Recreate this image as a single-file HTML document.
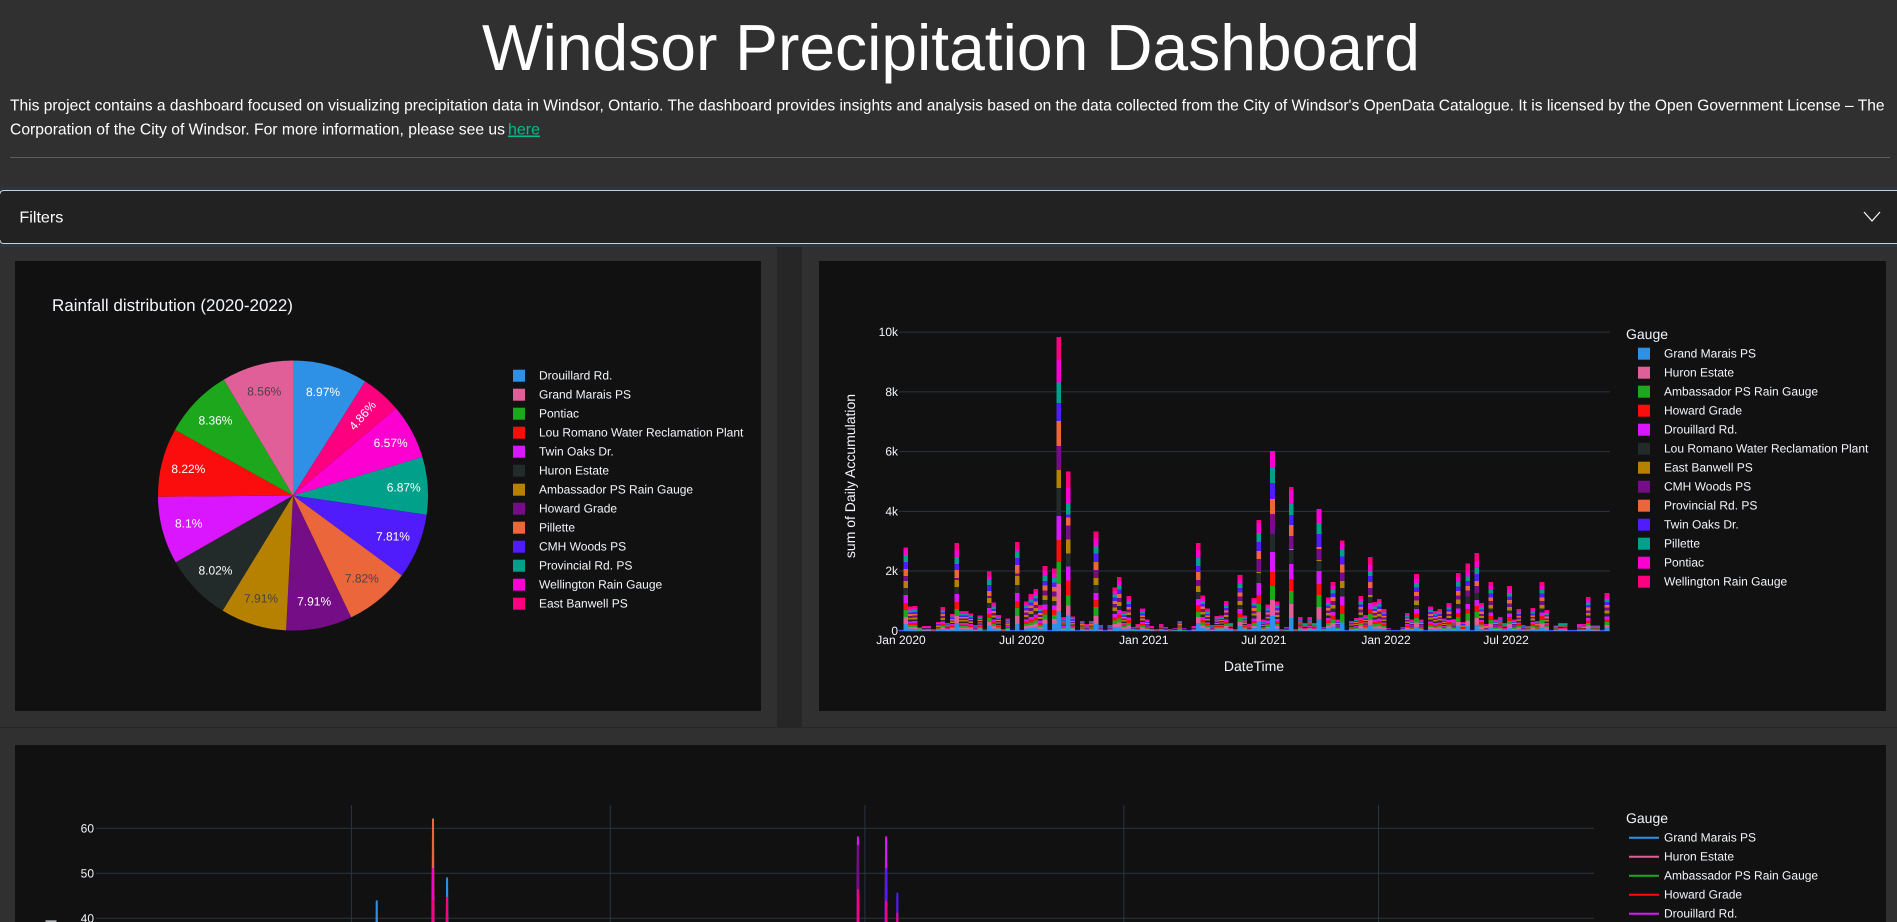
<!DOCTYPE html>
<html lang="en">
<head>
<meta charset="utf-8">
<title>Windsor Precipitation Dashboard</title>
<style>
html,body{margin:0;padding:0;width:1897px;height:922px;overflow:hidden;background:#303030;}
svg{display:block;position:absolute;left:0;top:0;font-family:"Liberation Sans",Arial,sans-serif;}
text{white-space:pre;}
.tick{font-size:12px;fill:#f2f5fa;text-rendering:geometricPrecision;}
.axt{font-size:14px;fill:#f2f5fa;text-rendering:geometricPrecision;}
</style>
</head>
<body>
<svg id="page" width="1897" height="922" viewBox="0 0 1897 922">
  <rect x="0" y="0" width="1897" height="922" fill="#303030"/>
  <text x="482" y="70" font-size="65" fill="#fff" textLength="938" lengthAdjust="spacingAndGlyphs">Windsor Precipitation Dashboard</text>
  <text x="10" y="110.5" font-size="16" fill="#fff" textLength="1874.5" lengthAdjust="spacingAndGlyphs">This project contains a dashboard focused on visualizing precipitation data in Windsor, Ontario. The dashboard provides insights and analysis based on the data collected from the City of Windsor's OpenData Catalogue. It is licensed by the Open Government License – The</text>
  <text x="10" y="134.5" font-size="16" fill="#fff" textLength="495" lengthAdjust="spacingAndGlyphs">Corporation of the City of Windsor. For more information, please see us</text>
  <a href="#"><text x="508" y="134.5" font-size="16" fill="#00bc8c" textLength="32" lengthAdjust="spacingAndGlyphs" text-decoration="underline">here</text></a>
  <rect x="10" y="157" width="1880" height="1" fill="#5c5c5c"/>

  <g>
    <rect x="0" y="187" width="1897" height="60" fill="#2b3640"/>
    <rect x="0" y="190" width="1897" height="54" fill="#222"/>
    <path d="M0 194 Q0 190.5 4 190.5 L1897 190.5 M0 240 Q0 243.5 4 243.5 L1897 243.5" fill="none" stroke="#c6d3de" stroke-width="1"/>
    <text x="19.4" y="222.5" font-size="16" fill="#fff" textLength="44" lengthAdjust="spacingAndGlyphs">Filters</text>
    <path d="M1864 212 L1872 221 L1880 212" fill="none" stroke="#fff" stroke-width="1.2"/>
  </g>

  <rect x="777" y="247" width="25" height="480" fill="#262626"/>
  <rect x="0" y="727" width="1897" height="1" fill="#262626"/>
  <rect x="15" y="261" width="746" height="450" fill="#111"/>
  <rect x="819" y="261" width="1067" height="450" fill="#111"/>
  <rect x="15" y="745" width="1871" height="177" fill="#111"/>

  <g id="pie">
    <text x="52" y="311" font-size="17" fill="#f2f5fa" text-rendering="geometricPrecision">Rainfall distribution (2020-2022)</text>
  </g>
  <g id="bars">
    <text transform="translate(855,476) rotate(-90)" text-anchor="middle" class="axt">sum of Daily Accumulation</text>
    <text x="1254" y="671" text-anchor="middle" class="axt">DateTime</text>
  </g>
  <g id="lines">
    <rect x="45.5" y="920.3" width="11" height="1.7" fill="#b0b3b8"/>
  </g>
</svg>

<script>
/* ---------- pie data ---------- */
const pieLabels = ['Drouillard Rd.','East Banwell PS','Wellington Rain Gauge','Provincial Rd. PS','CMH Woods PS','Pillette','Howard Grade','Ambassador PS Rain Gauge','Huron Estate','Twin Oaks Dr.','Lou Romano Water Reclamation Plant','Pontiac','Grand Marais PS'];
const pieValues = [8.97,4.86,6.57,6.87,7.81,7.82,7.91,7.91,8.02,8.1,8.22,8.36,8.56];
const pieLegendOrder = ['Drouillard Rd.','Grand Marais PS','Pontiac','Lou Romano Water Reclamation Plant','Twin Oaks Dr.','Huron Estate','Ambassador PS Rain Gauge','Howard Grade','Pillette','CMH Woods PS','Provincial Rd. PS','Wellington Rain Gauge','East Banwell PS'];

/* ---------- stacked bar data (weekly, from 2020-01-01) ---------- */
const barSeriesNames = ['Grand Marais PS','Huron Estate','Ambassador PS Rain Gauge','Howard Grade','Drouillard Rd.','Lou Romano Water Reclamation Plant','East Banwell PS','CMH Woods PS','Provincial Rd. PS','Twin Oaks Dr.','Pillette','Pontiac','Wellington Rain Gauge'];
const barSeriesColors = ['#2E91E5','#E15F99','#1CA71C','#FB0D0D','#DA16FF','#222A2A','#B68100','#750D86','#EB663B','#511CFB','#00A08B','#FB00D1','#FC0080'];
const grandMaraisWeekly = [2,225,70,65,10,15,10,5,25,60,
25,45,255,60,50,40,15,40,5,155,
85,35,5,25,2,225,2,85,90,125,
60,225,2,225,660,40,520,35,2,30,
15,30,225,15,2,10,125,130,60,80,
5,20,50,25,15,5,20,10,5,10,
30,5,2,10,255,100,65,15,40,35,
70,25,5,160,45,20,90,335,25,70,
500,85,5,10,430,5,40,15,30,25,
400,10,100,145,30,270,2,30,35,80,
50,190,75,70,60,5,2,2,10,40,
30,125,35,2,55,45,60,35,70,25,
160,20,160,2,190,65,15,130,30,40,
20,100,30,60,15,10,50,30,110,50,
2,10,25,15,2,2,20,15,75,10,
10,2,110];
const huronEstateWeekly = [2,235,65,70,5,10,15,5,25,70,
15,50,235,55,55,50,10,45,2,135,
70,40,5,35,2,270,2,70,100,115,
70,150,2,170,900,30,330,40,2,20,
15,20,270,10,2,20,100,150,45,100,
10,15,65,35,10,5,15,10,5,5,
20,10,2,15,200,85,50,20,35,45,
85,15,5,130,35,15,75,300,30,60,
535,70,5,5,470,5,30,25,40,15,
400,5,75,110,25,0,2,20,30,95,
35,170,70,90,50,10,2,2,5,50,
25,160,20,2,70,55,50,30,80,35,
135,25,190,2,235,75,20,115,25,30,
15,125,25,50,20,15,65,20,135,60,
2,15,15,25,2,2,15,20,95,15,
15,2,85];
const ambassadorWeekly = [2,235,60,60,10,10,15,5,20,55,
25,40,235,45,60,40,20,35,5,135,
80,45,5,30,2,270,2,80,85,105,
65,175,2,140,740,35,330,30,2,30,
20,25,300,20,2,15,120,125,55,85,
10,15,55,25,15,5,20,5,5,10,
25,5,2,10,170,90,60,10,45,40,
75,20,5,150,40,20,90,270,25,75,
470,80,5,10,435,5,40,20,30,20,
400,10,85,130,35,300,2,25,35,85,
40,200,80,85,55,5,2,2,10,45,
30,150,30,2,60,50,60,30,65,30,
155,20,225,2,200,70,15,120,35,35,
25,110,35,55,10,15,60,25,120,45,
2,10,20,25,2,2,15,15,85,15,
10,2,100];
const howardGradeWeekly = [2,235,65,60,5,15,10,5,20,65,
20,45,235,55,45,45,15,40,2,135,
70,45,5,30,2,235,2,70,100,100,
70,170,2,165,740,30,500,40,2,20,
15,30,235,15,2,15,100,145,50,95,
10,20,60,30,10,5,15,10,5,5,
25,10,2,15,235,85,55,15,35,35,
80,25,5,140,35,15,80,300,30,60,
470,75,5,10,400,5,35,20,35,20,
370,10,90,120,30,270,2,30,30,95,
45,170,70,80,60,5,2,2,10,50,
25,140,30,2,65,50,55,35,75,30,
150,25,160,2,200,80,15,130,25,35,
20,120,25,60,15,10,55,25,130,55,
2,15,20,20,2,2,20,20,90,10,
15,2,90];
const drouillardWeekly = [2,270,55,70,10,10,15,5,25,60,
20,50,270,45,50,50,15,45,2,200,
75,35,5,35,2,270,2,75,95,100,
75,160,2,155,800,40,470,35,2,25,
20,20,235,15,2,15,115,150,50,90,
10,15,60,25,15,5,15,10,5,5,
20,5,2,10,200,95,50,15,40,45,
75,15,5,145,40,15,85,400,25,75,
670,80,5,10,500,5,30,20,40,25,
435,10,80,125,25,300,2,25,30,90,
40,200,75,85,50,10,2,2,10,40,
30,150,25,2,60,55,55,35,70,25,
150,20,160,2,200,65,20,125,30,30,
20,120,30,50,15,15,60,20,125,50,
2,15,20,20,2,2,15,15,90,15,
10,2,100];
const louRomanoWeekly = [2,235,60,55,10,15,10,5,20,55,
20,35,235,50,45,40,15,35,5,170,
70,40,5,30,2,270,2,80,90,110,
60,155,2,150,940,35,435,35,2,25,
15,25,270,15,2,15,105,130,55,85,
5,15,55,30,10,5,20,10,5,10,
25,5,2,15,235,90,60,15,35,40,
70,20,5,140,35,20,85,335,30,65,
600,70,5,10,470,5,35,20,30,15,
335,5,85,120,30,300,2,25,35,85,
40,200,70,75,55,5,2,2,5,40,
30,140,30,2,65,50,60,30,70,35,
140,20,260,2,235,70,15,125,25,35,
20,110,25,55,15,10,55,25,125,55,
2,10,20,15,2,2,15,15,85,10,
15,2,95];
const eastBanwellWeekly = [2,235,60,65,5,10,10,5,20,65,
20,40,235,50,55,45,15,35,2,170,
70,40,5,35,2,300,2,75,100,110,
65,150,2,150,600,35,470,40,2,25,
15,25,235,15,2,15,110,140,50,85,
10,15,60,30,10,5,15,5,5,5,
25,10,2,10,200,90,55,15,35,40,
75,20,5,135,40,15,80,30,30,65,
0,70,5,10,30,5,35,20,35,20,
30,10,85,120,25,235,2,25,30,90,
35,70,75,80,55,10,2,2,10,50,
25,150,25,2,65,50,50,35,65,30,
150,25,0,2,0,75,20,120,30,35,
20,115,25,55,15,15,60,25,125,50,
2,15,20,20,2,2,15,20,80,15,
15,2,100];
const cmhWoodsWeekly = [2,170,60,60,10,15,15,5,25,60,
20,45,70,50,50,45,15,45,3,70,
75,40,5,30,2,70,2,70,95,105,
65,165,2,155,800,35,470,40,2,25,
20,25,270,15,2,15,115,135,50,90,
10,15,55,30,10,5,20,10,5,5,
25,5,2,15,200,90,60,15,40,40,
75,20,5,145,40,20,85,435,25,70,
670,75,5,10,435,5,35,20,35,20,
370,10,80,130,30,270,2,25,35,85,
40,235,75,85,60,5,2,2,10,45,
30,145,30,2,60,50,55,30,75,30,
145,25,190,2,235,70,15,130,25,35,
20,115,30,60,15,10,55,25,125,55,
2,10,20,20,2,2,20,15,85,10,
10,2,95];
const provincialWeekly = [2,235,65,65,10,10,10,5,20,65,
20,45,270,50,55,45,15,40,2,170,
70,45,5,35,2,300,2,75,95,105,
70,165,2,155,840,35,270,35,2,25,
15,25,270,15,2,15,110,135,50,90,
10,20,60,30,10,5,15,10,5,10,
25,10,2,10,270,90,55,15,35,40,
80,20,5,145,40,15,85,270,30,70,
500,75,5,10,370,5,35,20,35,20,
70,10,85,125,30,270,2,25,30,90,
40,200,75,85,55,10,2,2,10,45,
30,145,30,2,65,55,55,30,70,30,
150,20,160,2,170,70,20,125,30,35,
20,115,30,55,15,15,60,25,125,55,
2,15,20,20,2,2,15,15,90,15,
10,2,95];
const twinOaksWeekly = [2,235,60,65,5,10,15,5,20,60,
20,45,200,50,50,45,15,40,3,200,
70,40,5,30,2,235,2,75,90,110,
65,160,2,150,600,35,100,40,2,25,
15,25,270,15,2,15,110,140,50,90,
10,15,55,30,15,5,15,10,5,5,
25,5,2,15,200,90,55,15,40,40,
75,20,5,140,40,20,85,300,30,65,
535,75,5,10,335,5,35,20,35,20,
435,10,85,125,30,270,2,25,35,90,
40,200,70,80,55,5,2,2,10,45,
30,145,25,2,60,50,60,30,70,30,
150,20,160,2,235,70,15,125,30,35,
20,115,30,55,15,10,60,25,125,50,
2,10,20,20,2,2,15,20,85,10,
15,2,95];
const pilletteWeekly = [2,235,60,60,10,10,10,5,20,60,
20,40,235,50,50,45,15,40,2,170,
75,40,5,30,2,200,2,75,95,105,
65,160,2,155,700,35,370,35,2,25,
15,25,235,15,2,15,110,140,50,90,
10,15,60,30,10,5,20,10,5,5,
25,10,2,10,270,90,60,15,35,40,
75,20,5,140,40,15,85,300,30,70,
500,75,5,5,370,5,35,20,35,20,
370,10,85,125,25,235,2,25,30,90,
40,170,75,80,55,10,2,2,10,45,
25,145,30,2,65,50,55,30,70,30,
150,25,160,2,200,70,20,125,25,35,
20,115,25,55,15,15,55,25,125,55,
2,15,20,20,2,2,20,15,85,15,
15,2,95];
const pontiacWeekly = [2,170,60,60,10,15,15,5,25,60,
20,45,235,50,50,45,15,40,3,100,
75,40,5,35,2,100,2,75,95,105,
65,160,2,150,740,35,535,40,2,25,
20,25,270,15,2,15,110,140,50,90,
10,20,55,30,10,5,20,10,5,10,
25,5,2,15,270,95,60,15,40,40,
75,20,5,145,40,20,85,335,30,70,
570,75,5,10,470,5,35,20,35,20,
470,10,85,125,30,200,2,25,35,90,
40,200,75,85,55,5,2,2,10,45,
30,150,30,2,60,50,55,30,70,30,
150,20,160,2,235,75,15,125,30,35,
20,115,30,55,15,10,60,25,130,55,
2,15,20,20,2,2,20,20,90,15,
15,2,95];
const wellingtonWeekly = [2,70,70,70,10,15,15,5,25,70,
20,45,235,55,50,50,20,40,3,170,
70,40,5,35,2,235,2,80,100,110,
65,170,2,165,770,40,535,40,2,25,
20,30,235,15,2,15,115,140,55,90,
10,20,60,30,15,5,20,10,5,5,
25,10,2,15,235,95,60,15,40,40,
80,20,5,150,45,20,90,100,30,70,
0,80,5,10,100,5,35,25,40,25,
0,10,90,130,35,100,2,25,35,95,
45,270,80,90,60,10,2,2,10,50,
30,155,30,2,70,55,60,35,80,35,
155,25,270,2,270,75,20,135,30,40,
25,120,35,60,15,15,65,30,130,60,
2,15,25,25,2,2,20,20,95,15,
15,2,110];
const barSeriesValues = [grandMaraisWeekly,huronEstateWeekly,ambassadorWeekly,howardGradeWeekly,drouillardWeekly,louRomanoWeekly,eastBanwellWeekly,cmhWoodsWeekly,provincialWeekly,twinOaksWeekly,pilletteWeekly,pontiacWeekly,wellingtonWeekly];
const barFirstWeek = '2020-01-01';
const barYTicks = [0,2000,4000,6000,8000,10000];
const barYTickLabels = ['0','2k','4k','6k','8k','10k'];
const barXTicks = ['2020-01-01','2020-07-01','2021-01-01','2021-07-01','2022-01-01','2022-07-01'];
const barXTickLabels = ['Jan 2020','Jul 2020','Jan 2021','Jul 2021','Jan 2022','Jul 2022'];

/* ---------- line chart data (only peaks reach the visible area) ---------- */
const lineDates = ['2020-07-19','2020-08-28','2020-09-07','2021-06-26','2021-07-16','2021-07-24'];
const lineGrandMarais = [43.8,22,48.9,18,20,14];
const lineHuronEstate = [18,24,20,21,19,16];
const lineAmbassador = [20,25,18,22,24,15];
const lineHowardGrade = [16,27,22,24,26,18];
const lineDrouillard = [15,30,25,58,58,20];
const lineLouRomano = [19,28,21,30,28,22];
const lineEastBanwell = [14,26,23,29,25,19];
const lineCmhWoods = [17,29,24,56.1,33,21];
const lineProvincial = [21,62,26,31,35,23];
const lineTwinOaks = [13,33,20,28,51,45.5];
const linePillette = [18,31,27,32,36,24];
const linePontiac = [12,51,30,34,36,38];
const lineWellington = [20,43.9,44.6,46.3,43.7,41.1];
const lineSeriesValues = [lineGrandMarais,lineHuronEstate,lineAmbassador,lineHowardGrade,lineDrouillard,lineLouRomano,lineEastBanwell,lineCmhWoods,lineProvincial,lineTwinOaks,linePillette,linePontiac,lineWellington];
const lineYTicks = [40,50,60];
const lineXGridDates = ['2020-07-01','2021-01-01','2021-07-01','2022-01-01','2022-07-01'];

const SVGNS = 'http://www.w3.org/2000/svg';
function make(parent, tag, attrs, text){
  const el = document.createElementNS(SVGNS, tag);
  for (const k in attrs) el.setAttribute(k, attrs[k]);
  if (text !== undefined) el.textContent = text;
  parent.appendChild(el);
  return el;
}
const dayMs = 86400000;
function dayNumber(s){ return Date.parse(s + 'T00:00:00Z') / dayMs; }

/* ---------- pie ---------- */
(function(){
  const g = document.getElementById('pie');
  const cx = 293, cy = 495.5, R = 135;
  const total = pieValues.reduce((a,b)=>a+b,0);
  const darkText = new Set(['#E15F99','#B68100','#EB663B']);
  const pieColor = {'Drouillard Rd.':'#2E91E5','East Banwell PS':'#FC0080','Wellington Rain Gauge':'#FB00D1','Provincial Rd. PS':'#00A08B','CMH Woods PS':'#511CFB','Pillette':'#EB663B','Howard Grade':'#750D86','Ambassador PS Rain Gauge':'#B68100','Huron Estate':'#222A2A','Twin Oaks Dr.':'#DA16FF','Lou Romano Water Reclamation Plant':'#FB0D0D','Pontiac':'#1CA71C','Grand Marais PS':'#E15F99'};
  function labelRadius(p){ return p < 5 ? 106 : (p < 7 ? 111 : 108); }
  let acc = 0;
  const pending = [];
  pieValues.forEach((v,i)=>{
    const a0 = acc/total*2*Math.PI; acc += v;
    const a1 = acc/total*2*Math.PI;
    const d = 'M'+cx+' '+cy+'L'+(cx+R*Math.sin(a0))+' '+(cy-R*Math.cos(a0))+'A'+R+' '+R+' 0 0 1 '+(cx+R*Math.sin(a1))+' '+(cy-R*Math.cos(a1))+'Z';
    const slice = make(g,'path',{d:d,fill:pieColor[pieLabels[i]]});
    
    
    pending.push({v:v,mid:(a0+a1)/2,color:pieColor[pieLabels[i]]});
  });
  pending.forEach(p=>{
    const t = labelRadius(p.v);
    const lx = cx+t*Math.sin(p.mid), ly = cy-t*Math.cos(p.mid);
    const attrs = {x:lx,y:ly+4,'text-anchor':'middle','font-size':12,'text-rendering':'geometricPrecision',fill:darkText.has(p.color)?'#444':'#fff'};
    if (p.v < 5) attrs.transform = 'rotate('+(p.mid*180/Math.PI-90)+' '+lx+' '+ly+')';
    const lab = make(g,'text',attrs,p.v+'%');
    
    
  });
  pieLegendOrder.forEach((name,i)=>{
    const y = 375.7 + 19*i;
    const sw = make(g,'rect',{x:513,y:y-6,width:12,height:12,fill:pieColor[name]});
    
    
    const tx = make(g,'text',{x:539,y:y+4,class:'tick'},name);
    
    
  });
})();

/* ---------- stacked bars ---------- */
function barX(dateNum){ return 901 + (dateNum - dayNumber('2020-01-01'))*0.6635; }
function barY(v){ return 630.8 - v*0.02987; }
(function(){
  const g = document.getElementById('bars');
  barYTicks.forEach((t,i)=>{
    const line = make(g,'line',{x1:899,x2:1610,y1:barY(t),y2:barY(t),stroke:'#283442','stroke-width':t===0?2:1});
    
    
    const lab = make(g,'text',{x:898,y:barY(t)+4,'text-anchor':'end',class:'tick'},barYTickLabels[i]);
    
    
  });
  barXTicks.forEach((t,i)=>{
    const lab = make(g,'text',{x:barX(dayNumber(t)),y:644,'text-anchor':'middle',class:'tick'},barXTickLabels[i]);
    
    
  });
  const weeks = barSeriesValues[0].length;
  const w = 7*0.6635;
  const first = dayNumber(barFirstWeek);
  for (let i=0;i<weeks;i++){
    let cum = 0;
    const cx = barX(first + 7*i);
    barSeriesValues.forEach((vals,s)=>{
      const v = vals[i];
      if (!v) return;
      const y1 = barY(cum+v), y0 = barY(cum);
      const r = make(g,'rect',{x:cx-w/2,y:y1,width:w,height:y0-y1,fill:barSeriesColors[s],'shape-rendering':'crispEdges'});
      
      
      cum += v;
    });
  }
  const title = make(g,'text',{x:1626,y:339,class:'axt'},'Gauge');
  
  
  barSeriesNames.forEach((name,i)=>{
    const y = 353.7 + 19*i;
    const sw = make(g,'rect',{x:1638,y:y-6,width:12,height:12,fill:barSeriesColors[i]});
    
    
    const tx = make(g,'text',{x:1664,y:y+4,class:'tick'},name);
    
    
  });
})();

/* ---------- line chart ---------- */
function lineX(dateNum){ return 351.4 + (dateNum - dayNumber('2020-07-01'))*1.407; }
function lineY(v){ return 918.3 - (v-40)*4.5; }
(function(){
  const g = document.getElementById('lines');
  const frameBottom = 922;
  lineYTicks.forEach(t=>{
    const line = make(g,'line',{x1:96,x2:1594,y1:lineY(t),y2:lineY(t),stroke:'#283442','stroke-width':1});
    
    
    const lab = make(g,'text',{x:94,y:lineY(t)+4,'text-anchor':'end',class:'tick'},String(t));
    
    
  });
  lineXGridDates.forEach(d=>{
    const x = lineX(dayNumber(d));
    const line = make(g,'line',{x1:x,x2:x,y1:805,y2:frameBottom,stroke:'#283442','stroke-width':1});
    
    
  });
  /* spikes rise from 0 one day before and fall to 0 one day after; each is cut at the frame bottom */
  lineSeriesValues.forEach((vals,s)=>{
    let d = '';
    lineDates.forEach((dt,i)=>{
      const peakY = lineY(vals[i]);
      if (peakY >= frameBottom) return;
      const n = dayNumber(dt);
      const frac = (frameBottom - peakY) / (lineY(0) - peakY);
      const cx = lineX(n), dx = (lineX(n+1) - cx) * frac;
      d += 'M'+(cx-dx)+' '+frameBottom+'L'+cx+' '+peakY+'L'+(cx+dx)+' '+frameBottom;
    });
    if (!d) return;
    const p = make(g,'path',{d:d,fill:'none',stroke:barSeriesColors[s],'stroke-width':2,'stroke-linejoin':'round'});
    
    
  });
  const title = make(g,'text',{x:1626,y:823,class:'axt'},'Gauge');
  
  
  barSeriesNames.slice(0,5).forEach((name,i)=>{
    const y = 837.7 + 19*i;
    const sw = make(g,'line',{x1:1629,x2:1659,y1:y,y2:y,stroke:barSeriesColors[i],'stroke-width':2});
    
    
    const tx = make(g,'text',{x:1664,y:y+4,class:'tick'},name);
    
    
  });
})();
</script>
</body>
</html>
